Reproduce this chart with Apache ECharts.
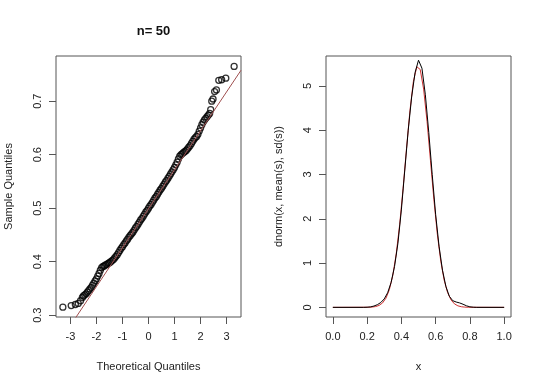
<!DOCTYPE html>
<html>
<head>
<meta charset="utf-8">
<script src="https://cdn.jsdelivr.net/npm/echarts@6/dist/echarts.min.js"></script>
<style>html,body{margin:0;padding:0;background:#fff}#c{width:540px;height:387px}</style>
</head>
<body>
<div id="c"></div>
<script>
// ---- QQ plot data ----
const qqTheoretical = [-3.29,-2.97,-2.81,-2.70,-2.61,-2.54,-2.50,-2.45,-2.40,-2.35,-2.30,-2.25,-2.20,-2.15,-2.10,-2.05,-2.00,-1.95,-1.90,-1.85,-1.80,-1.75,-1.70,-1.65,-1.60,-1.55,-1.50,-1.45,-1.40,-1.35,-1.30,-1.25,-1.20,-1.15,-1.10,-1.05,-1.00,-0.95,-0.90,-0.85,-0.80,-0.75,-0.70,-0.65,-0.60,-0.55,-0.50,-0.45,-0.40,-0.35,-0.30,-0.25,-0.20,-0.15,-0.10,-0.05,0.00,0.05,0.10,0.15,0.20,0.25,0.30,0.35,0.40,0.45,0.50,0.55,0.60,0.65,0.70,0.75,0.80,0.85,0.90,0.95,1.00,1.05,1.10,1.15,1.20,1.25,1.30,1.35,1.40,1.45,1.50,1.55,1.60,1.65,1.70,1.75,1.80,1.85,1.90,1.95,2.00,2.05,2.10,2.15,2.20,2.25,2.30,2.35,2.39,2.43,2.48,2.54,2.61,2.70,2.81,2.97,3.29];
const qqSample = [0.315,0.318,0.320,0.322,0.327,0.333,0.336,0.338,0.340,0.343,0.346,0.349,0.352,0.356,0.360,0.364,0.368,0.373,0.378,0.384,0.389,0.391,0.392,0.394,0.395,0.397,0.398,0.400,0.402,0.404,0.407,0.410,0.413,0.417,0.421,0.425,0.428,0.432,0.435,0.439,0.442,0.446,0.449,0.452,0.455,0.459,0.463,0.466,0.470,0.474,0.478,0.481,0.485,0.489,0.493,0.496,0.500,0.504,0.507,0.511,0.515,0.519,0.522,0.526,0.530,0.534,0.537,0.541,0.545,0.549,0.552,0.556,0.560,0.564,0.568,0.572,0.576,0.581,0.586,0.592,0.597,0.600,0.602,0.604,0.606,0.608,0.611,0.614,0.617,0.621,0.625,0.629,0.632,0.634,0.638,0.644,0.650,0.656,0.661,0.665,0.668,0.671,0.674,0.677,0.684,0.700,0.704,0.718,0.721,0.739,0.740,0.743,0.765];
const qqLineIntercept = 0.499;
const qqLineSlope = 0.0728;
const qqXTicks = [-3,-2,-1,0,1,2,3];
const qqYTicks = [0.3,0.4,0.5,0.6,0.7];

// ---- Density data ----
const densX = [0,0.18,0.20,0.22,0.24,0.26,0.28,0.30,0.32,0.34,0.36,0.38,0.40,0.42,0.44,0.46,0.48,0.50,0.52,0.54,0.56,0.58,0.60,0.62,0.64,0.66,0.68,0.70,0.72,0.74,0.76,0.78,0.80,0.82,0.84,1.0];
const densY = [0,0,0.003,0.01,0.03,0.06,0.11,0.19,0.33,0.56,0.92,1.45,2.20,3.10,4.00,4.75,5.30,5.58,5.40,4.80,3.95,3.00,2.10,1.38,0.84,0.47,0.25,0.15,0.12,0.10,0.07,0.035,0.012,0.003,0,0];
const normX = [0,0.21,0.23,0.25,0.27,0.29,0.31,0.33,0.35,0.37,0.39,0.41,0.43,0.45,0.47,0.49,0.51,0.53,0.55,0.57,0.59,0.61,0.63,0.65,0.67,0.69,0.71,0.73,0.75,0.77,0.79,1.0];
const normY = [0,0.0025,0.007,0.018,0.044,0.099,0.207,0.401,0.722,1.206,1.868,2.685,3.584,4.437,5.097,5.432,5.371,4.928,4.195,3.310,2.428,1.652,1.043,0.611,0.332,0.168,0.078,0.034,0.014,0.005,0.0018,0];
const densXTicks = [0,0.2,0.4,0.6,0.8,1.0];
const densYTicks = [0,1,2,3,4,5];

const FONT = 'Liberation Sans, Arial, sans-serif';
const tickStyle = {show:true, inside:false, length:7, lineStyle:{color:'#555', width:1}};
const noLine = {show:false, onZero:false};

const qqXMin = -3.554, qqXMax = 3.554;

const chart = echarts.init(document.getElementById('c'), null, {renderer:'canvas'});
chart.setOption({
  animation:false,
  backgroundColor:'#fff',
  title:{text:'n= 50', left:148.5, top:20, textAlign:'center',
    textStyle:{fontFamily:FONT, fontSize:13, fontWeight:'bold', color:'#111'}},
  grid:[
    {left:56, top:56, width:185, height:261, show:true, borderColor:'#555', borderWidth:1, backgroundColor:'transparent'},
    {left:326, top:56, width:185, height:261, show:true, borderColor:'#555', borderWidth:1, backgroundColor:'transparent'}
  ],
  xAxis:[
    {gridIndex:0, type:'value', min:qqXMin, max:qqXMax, splitLine:{show:false}, axisLine:noLine,
     axisTick:Object.assign({customValues:qqXTicks}, tickStyle),
     axisLabel:{customValues:qqXTicks, margin:14, fontFamily:FONT, fontSize:11, color:'#222'},
     name:'Theoretical Quantiles', nameLocation:'middle', nameGap:44,
     nameTextStyle:{fontFamily:FONT, fontSize:11, color:'#222'}},
    {gridIndex:1, type:'value', min:-0.04, max:1.04, splitLine:{show:false}, axisLine:noLine,
     axisTick:Object.assign({customValues:densXTicks}, tickStyle),
     axisLabel:{customValues:densXTicks, margin:14, fontFamily:FONT, fontSize:11, color:'#222',
       formatter:v=>v.toFixed(1)},
     name:'x', nameLocation:'middle', nameGap:44,
     nameTextStyle:{fontFamily:FONT, fontSize:11, color:'#222'}}
  ],
  yAxis:[
    {gridIndex:0, type:'value', min:0.2966, max:0.7844, splitLine:{show:false}, axisLine:noLine,
     axisTick:Object.assign({customValues:qqYTicks}, tickStyle),
     axisLabel:{customValues:qqYTicks, rotate:90, margin:13, fontFamily:FONT, fontSize:11, color:'#222',
       formatter:v=>v.toFixed(1)},
     name:'Sample Quantiles', nameLocation:'middle', nameGap:42,
     nameTextStyle:{fontFamily:FONT, fontSize:11, color:'#222'}},
    {gridIndex:1, type:'value', min:-0.218, max:5.675, splitLine:{show:false}, axisLine:noLine,
     axisTick:Object.assign({customValues:densYTicks}, tickStyle),
     axisLabel:{customValues:densYTicks, rotate:90, margin:13, fontFamily:FONT, fontSize:11, color:'#222'},
     name:'dnorm(x, mean(s), sd(s))', nameLocation:'middle', nameGap:42,
     nameTextStyle:{fontFamily:FONT, fontSize:11, color:'#222'}}
  ],
  series:[
    {type:'scatter', xAxisIndex:0, yAxisIndex:0, symbol:'circle', symbolSize:6,
     itemStyle:{color:'rgba(0,0,0,0)', borderColor:'#000', borderWidth:1.3},
     data:qqTheoretical.map((q,i)=>[q, qqSample[i]]), silent:true},
    {type:'line', xAxisIndex:0, yAxisIndex:0, symbol:'none', clip:true,
     lineStyle:{color:'#a05050', width:1},
     data:[[qqXMin, qqLineIntercept+qqLineSlope*qqXMin],[qqXMax, qqLineIntercept+qqLineSlope*qqXMax]], silent:true},
    {type:'line', xAxisIndex:1, yAxisIndex:1, symbol:'none', clip:true,
     lineStyle:{color:'#d03030', width:1},
     data:normX.map((x,i)=>[x, normY[i]]), silent:true},
    {type:'line', xAxisIndex:1, yAxisIndex:1, symbol:'none', clip:true,
     lineStyle:{color:'#000', width:1},
     data:densX.map((x,i)=>[x, densY[i]]), silent:true}
  ]
});
</script>
</body>
</html>
